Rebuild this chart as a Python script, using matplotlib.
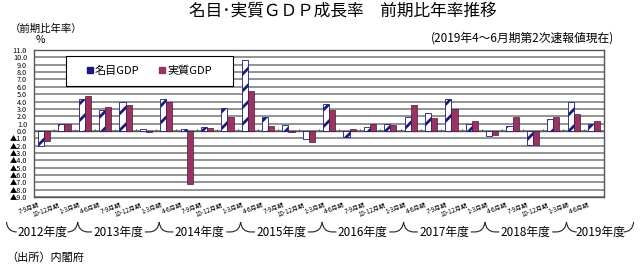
import numpy as np
import matplotlib.pyplot as plt
from matplotlib.patches import Patch, Rectangle, PathPatch
from matplotlib.path import Path
from matplotlib.transforms import ScaledTranslation

plt.rcParams['font.family'] = ['Noto Sans CJK JP', 'DejaVu Sans']
plt.rcParams['hatch.linewidth'] = 2.0

# データ（前期比年率, %）
quarters = ['7-9月期', '10-12月期', '1-3月期'] + ['4-6月期', '7-9月期', '10-12月期', '1-3月期'] * 6 + ['4-6月期']
nominal = [-2.0, 0.9, 4.4, 2.9, 3.9, 0.2, 4.4, 0.2, 0.5, 3.1, 9.7, 1.9, 0.8, -1.1,
           3.6, -0.8, 0.5, 1.0, 1.9, 2.5, 4.4, 1.0, -0.7, 0.7, -1.9, 1.6, 3.9, 1.0]
real = [-1.4, 1.0, 4.7, 3.3, 3.5, -0.2, 4.0, -7.2, 0.4, 1.9, 5.5, 0.6, -0.2, -1.5,
        2.9, 0.2, 1.0, 0.8, 3.5, 1.8, 3.0, 1.3, -0.6, 1.9, -1.9, 1.9, 2.3, 1.3]
years = ['2012年度', '2013年度', '2014年度', '2015年度', '2016年度', '2017年度', '2018年度', '2019年度']
year_counts = [3, 4, 4, 4, 4, 4, 4, 1]
series_names = ['名目GDP', '実質GDP']

NAVY = '#1a1a7a'
WINE = '#993366'

fig = plt.figure(figsize=(6.4, 2.68), dpi=100)
ax = fig.add_axes([0.053, 0.265, 0.891, 0.548])

x = np.arange(len(quarters))
w = 0.3
ax.bar(x - w / 2, nominal, w, color='white', edgecolor=NAVY, hatch='//', lw=0.6, zorder=3)
ax.bar(x + w / 2, real, w, color=WINE, edgecolor='#4d1a33', lw=0.5, zorder=3)

# 軸・目盛り
ax.set_xlim(-0.5, len(quarters) - 0.5)
ax.set_ylim(-9, 11)
yticks = np.arange(-9, 12)
ax.set_yticks(yticks)
ax.set_yticklabels([f'{v:.1f}' if v >= 0 else f'▲{-v:.1f}' for v in yticks], fontsize=5.2)
ax.tick_params(axis='y', length=0, pad=5)
ax.yaxis.grid(True, color='#8a8a8a', lw=1.3)
ax.set_axisbelow(True)
for s in ax.spines.values():
    s.set_color('#555555')
    s.set_linewidth(1.0)

ax.set_xticks(x)
ax.set_xticklabels(quarters, rotation=20, ha='right', va='top', rotation_mode='anchor', fontsize=4.5)
ax.tick_params(axis='x', length=0, pad=3)
shift = ScaledTranslation(-6 / 100, 0, fig.dpi_scale_trans)
for lbl in ax.get_xticklabels():
    lbl.set_transform(lbl.get_transform() + shift)

# ゼロ線と区切り
ax.axhline(0, color='#555555', lw=1.0, zorder=2.5)
ax.vlines(x[:-1] + 0.5, 0, 0.3, color='#555555', lw=0.8, zorder=2.5)

# 凡例
ax.add_patch(Rectangle((0.056, 0.755), 0.293, 0.204, transform=ax.transAxes,
                       facecolor='white', edgecolor='black', lw=0.8, zorder=4))
handles = [Patch(facecolor=NAVY, edgecolor=NAVY), Patch(facecolor=WINE, edgecolor=WINE)]
ax.legend(handles, series_names, loc='center', bbox_to_anchor=(0.2025, 0.857), ncol=2,
          frameon=False, fontsize=8, handlelength=0.5, handleheight=0.5,
          handletextpad=0.2, columnspacing=1.8)

# 年度の括弧
edges = np.concatenate([[0], np.cumsum(year_counts)]) - 0.5 - 0.85
edges[0] -= 0.5
edges[-1] += 2.3
trans = ax.get_xaxis_transform()
ytop, ymid = -0.17, -0.238
hw = 1.3
for i, name in enumerate(years):
    x0, x1 = edges[i], edges[i + 1]
    xm = (x0 + x1) / 2
    ax.text(xm, ymid, name, transform=trans, ha='center', va='center', fontsize=8.5, clip_on=False)
    left = Path([(x0, ytop), (x0 + 0.05, ymid), (x0 + 0.5, ymid), (max(xm - hw, x0 + 0.5), ymid)],
                [Path.MOVETO, Path.CURVE3, Path.CURVE3, Path.LINETO])
    right = Path([(min(xm + hw, x1 - 0.5), ymid), (x1 - 0.5, ymid), (x1 - 0.05, ymid), (x1, ytop)],
                 [Path.MOVETO, Path.LINETO, Path.CURVE3, Path.CURVE3])
    for p in (left, right):
        ax.add_patch(PathPatch(p, transform=trans, fill=False, lw=0.8, color='#222222', clip_on=False))

# テキスト
fig.text(0.535, 1 - 12 / 268, '名目･実質ＧＤＰ成長率　前期比年率推移', ha='center', va='center', fontsize=12)
fig.text(0.96, 1 - 38 / 268, '(2019年4～6月期第2次速報値現在)', ha='right', va='center', fontsize=8.5)
fig.text(10 / 640, 1 - 29 / 268, '（前期比年率）', ha='left', va='center', fontsize=7.5)
fig.text(40 / 640, 1 - 40 / 268, '%', ha='center', va='center', fontsize=7.5)
fig.text(6 / 640, 1 - 258 / 268, '（出所）内閣府', ha='left', va='center', fontsize=8)

fig.savefig('out.png', dpi=100)
